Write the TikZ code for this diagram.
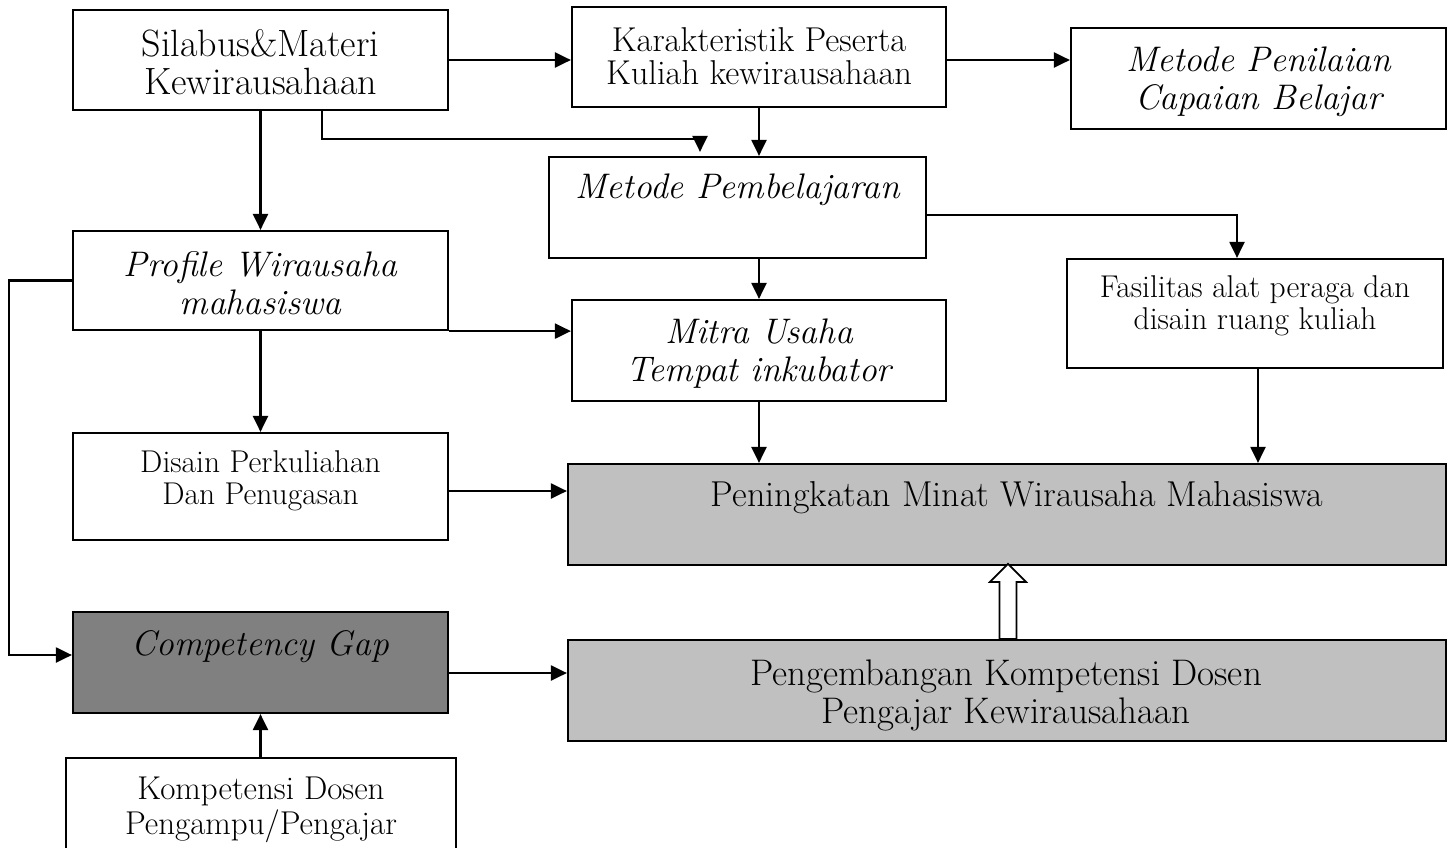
\documentclass[tikz,border=0pt]{standalone}
\usepackage{fontspec}
\usetikzlibrary{arrows.meta}
\definecolor{lgray}{HTML}{C0C0C0}
\definecolor{dgray}{HTML}{808080}
\newcommand{\heavier}{\addfontfeature{FakeBold=0.5}}
\tikzset{
  box/.style={draw, line width=2.2pt, inner sep=0pt, fill=white},
  txt/.style={align=center, inner sep=0pt},
  arr/.style={line width=2.2pt, -{Triangle[length=16pt,width=15pt]}},
  fA/.style={font=\fontsize{38}{38}\selectfont\heavier},
  fB/.style={font=\fontsize{34.5}{33}\selectfont\heavier},
  fI/.style={font=\fontsize{35.5}{38}\selectfont\itshape\heavier},
  fS/.style={font=\fontsize{31.5}{31.5}\selectfont\heavier},
  fL/.style={font=\fontsize{36}{37}\selectfont\heavier},
  fM/.style={font=\fontsize{37}{38}\selectfont\heavier},
  fK/.style={font=\fontsize{33}{35}\selectfont\heavier},
}
\begin{document}
\begin{tikzpicture}[x=1pt,y=-1pt]
\useasboundingbox (0,0) rectangle (1448,847);
% boxes
\node[box, minimum width=375pt, minimum height=100pt] (silabus) at (260.5,60) {};
\node[box, minimum width=374pt, minimum height=100pt] (karak) at (759,57) {};
\node[box, minimum width=375pt, minimum height=101pt] (penilaian) at (1258.5,78.5) {};
\node[box, minimum width=377pt, minimum height=101pt] (pembel) at (737.5,207.5) {};
\node[box, minimum width=375pt, minimum height=99pt] (profile) at (260.5,280.5) {};
\node[box, minimum width=376pt, minimum height=109pt] (fasil) at (1255,313.5) {};
\node[box, minimum width=374pt, minimum height=101pt] (mitra) at (759,350.5) {};
\node[box, minimum width=375pt, minimum height=107pt] (disain) at (260.5,486.5) {};
\node[box, fill=lgray, minimum width=878pt, minimum height=101pt] (pening) at (1007,514.5) {};
\node[box, fill=dgray, minimum width=375pt, minimum height=101pt] (gap) at (260.5,662.5) {};
\node[box, fill=lgray, minimum width=878pt, minimum height=101pt] (pengem) at (1007,690.5) {};
\node[box, minimum width=390pt, minimum height=112pt] (kompet) at (261,814) {};
% texts
\node[txt, fA] (silabusT) at (260.5,62) {Silabus\&Materi\\Kewirausahaan};
\node[txt, fB] (karakT) at (759,56) {Karakteristik Peserta\\Kuliah kewirausahaan};
\node[txt, fI] (penilaianT) at (1258.5,82) {Metode Penilaian\\Capaian Belajar};
\node[txt, fI] (pembelT) at (737.5,190) {Metode Pembelajaran};
\node[txt, fI] (profileT) at (260.5,283) {Profile Wirausaha\\mahasiswa};
\node[txt, fS] (fasilT) at (1255,306) {Fasilitas alat peraga dan\\disain ruang kuliah};
\node[txt, fI] (mitraT) at (759,354) {Mitra Usaha\\Tempat inkubator};
\node[txt, fS] (disainT) at (260.5,481) {Disain Perkuliahan\\Dan Penugasan};
\node[txt, fL] (peningT) at (1017,498) {Peningkatan Minat Wirausaha Mahasiswa};
\node[txt, fI] (gapT) at (260.5,647) {Competency Gap};
\node[txt, fM] (pengemT) at (1006,695) {Pengembangan Kompetensi Dosen\\Pengajar Kewirausahaan};
\node[txt, fK] (kompetT) at (261,810) {Kompetensi Dosen\\Pengampu/Pengajar};
% connectors
\draw[arr] (silabus.east) -- (silabus.east -| karak.west);
\draw[arr] (karak.east |- silabus.east) -- (penilaian.west |- silabus.east);
\draw[arr] (silabus.south) -- (profile.north);
\draw[arr] ([xshift=61.5pt]silabus.south) -- ++(0,28) -| ([xshift=-37.5pt,yshift=4pt]pembel.north);
\draw[arr] (karak.south) -- (karak.south |- pembel.north);
\draw[arr] ([yshift=-7.5pt]pembel.east) -| ([xshift=-18pt]fasil.north);
\draw[arr] (mitra.north |- pembel.south) -- (mitra.north);
\draw[arr] (profile.south east) -- (profile.south east -| mitra.west);
\draw[arr] (profile.west) -- ++(-63,0) |- ([yshift=7.5pt]gap.west);
\draw[arr] (profile.south) -- (disain.north);
\draw[arr] (mitra.south) -- (mitra.south |- pening.north);
\draw[arr] ([xshift=3pt]fasil.south) -- ([xshift=3pt]fasil.south |- pening.north);
\draw[arr] ([yshift=-4.5pt]disain.east) -- ([yshift=-4.5pt]disain.east -| pening.west);
\draw[arr] ([yshift=-10.5pt]gap.east) -- ([yshift=-10.5pt]gap.east -| pengem.west);
\draw[arr] (kompet.north -| gap.south) -- (gap.south);
% hollow block arrow
\draw[line width=1.8pt, fill=white, line join=miter] ([xshift=-7.5pt]pengem.north) -- ++(0,-57) -- ++(-9.5,0) -- ++(18,-18) -- ++(18,18) -- ++(-9.5,0) -- ++(0,57) -- cycle;
\end{tikzpicture}
\end{document}
